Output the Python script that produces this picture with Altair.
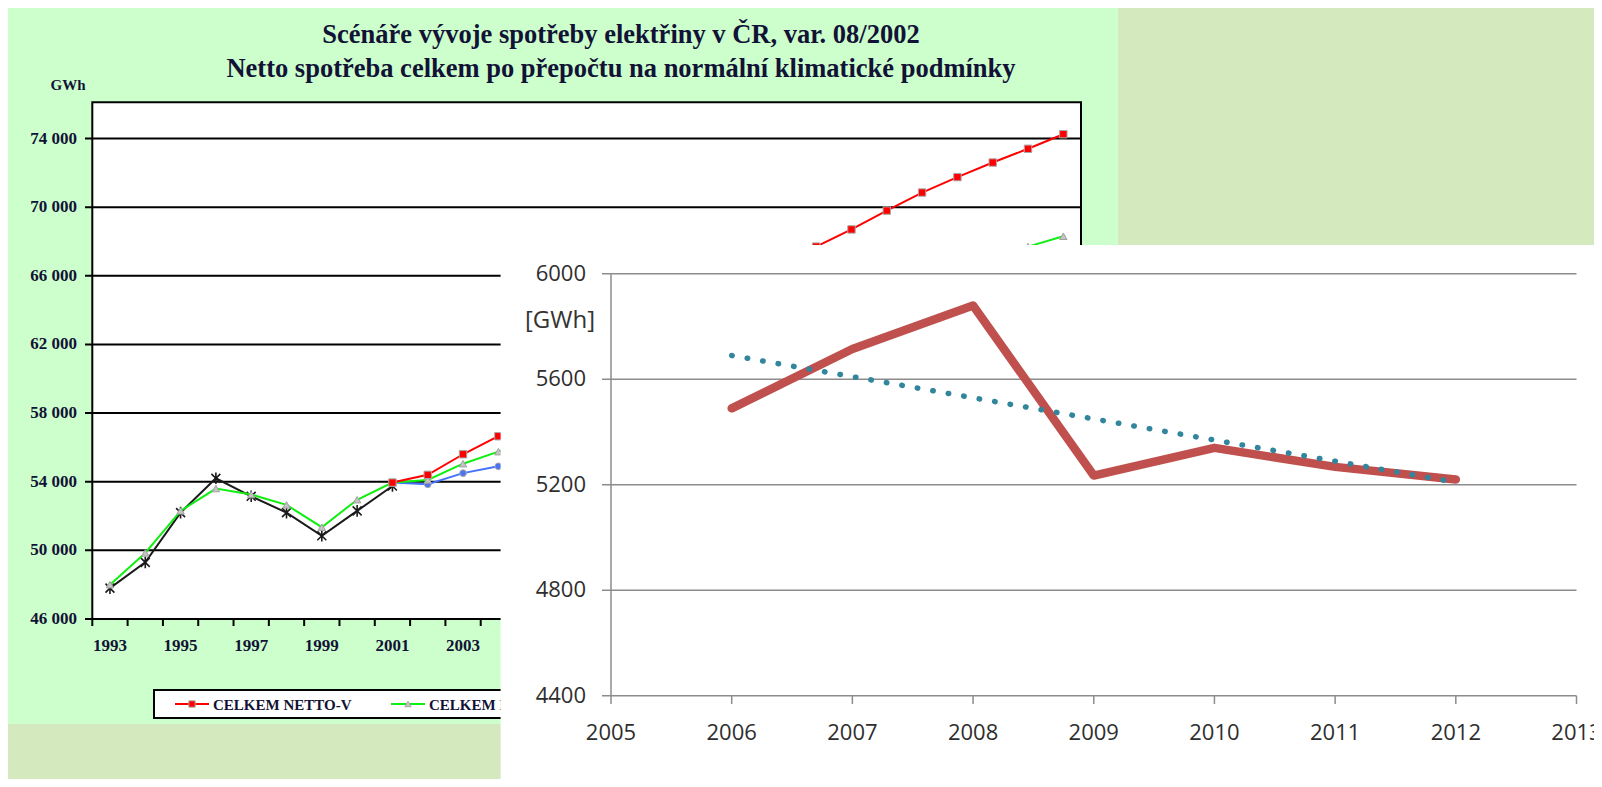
import altair as alt
import pandas as pd

# ---------------- data: background chart (1993-2020) ----------------
back_title_1 = "Scénáře vývoje spotřeby elektřiny v ČR, var. 08/2002"
back_title_2 = "Netto spotřeba celkem po přepočtu na normální klimatické podmínky"
back_unit = "GWh"

black_years = [1993, 1994, 1995, 1996, 1997, 1998, 1999, 2000, 2001]
black_vals = [47800, 49300, 52200, 54200, 53150, 52200, 50850, 52300, 53750]

green_years = [1993, 1994, 1995, 1996, 1997, 1998, 1999, 2000, 2001, 2002, 2003, 2004, 2019, 2020]
green_vals = [48000, 49850, 52300, 53600, 53250, 52650, 51350, 52950, 53950, 54100, 55050, 55750, 67700, 68300]

red_years = [2001, 2002, 2003, 2004, 2013, 2014, 2015, 2016, 2017, 2018, 2019, 2020]
red_vals = [53950, 54400, 55600, 56650, 67700, 68700, 69800, 70850, 71750, 72600, 73400, 74250]

blue_years = [2001, 2002, 2003, 2004]
blue_vals = [53950, 53850, 54500, 54900]

back_yticks = [46000, 50000, 54000, 58000, 62000, 66000, 70000, 74000]
back_ytick_labels = ["46 000", "50 000", "54 000", "58 000", "62 000", "66 000", "70 000", "74 000"]
back_years_all = list(range(1993, 2021))
back_xlabel_years = list(range(1993, 2021, 2))

legend_labels = ["CELKEM NETTO-V", "CELKEM NETTO-S"]

# ---------------- data: front chart (2006-2012) ----------------
front_years = [2006, 2007, 2008, 2009, 2010, 2011, 2012]
front_vals = [5490, 5715, 5880, 5235, 5340, 5268, 5220]
front_yticks = [4400, 4800, 5200, 5600, 6000]
front_xticks = [2005, 2006, 2007, 2008, 2009, 2010, 2011, 2012, 2013]
front_unit = "[GWh]"

# ---------------- layout ----------------
W, H = 1586, 771
OFF = 8


def px(v):
    return v - OFF


BX = alt.Scale(domain=[1992.5, 2020.5], range=[px(92.3), px(1081)], zero=False, nice=False)
BY = alt.Scale(domain=[46000, 74000], range=[px(619), px(138.5)], zero=False, nice=False)
FX = alt.Scale(domain=[2005, 2013], range=[px(611), px(1576.5)], zero=False, nice=False)
FY = alt.Scale(domain=[4400, 6000], range=[px(695.8), px(273.8)], zero=False, nice=False)


def bx(f):
    return alt.X(f, type="quantitative", scale=BX, axis=None)


def by(f):
    return alt.Y(f, type="quantitative", scale=BY, axis=None)


def fx(f):
    return alt.X(f, type="quantitative", scale=FX, axis=None)


def fy(f):
    return alt.Y(f, type="quantitative", scale=FY, axis=None)


one = pd.DataFrame({"k": [0]})
SERIF = "Liberation Serif"
SANS = "Open Sans"
BTXT = "#121236"
FTXT = "#2e2e2e"

layers = []

# back panel and plot area
layers.append(alt.Chart(one).mark_rect(color="#ccffcc").encode(
    x=alt.value(0), x2=alt.value(px(1118)), y=alt.value(0), y2=alt.value(px(724))))
layers.append(alt.Chart(one).mark_rect(fill="white", stroke="black", strokeWidth=2).encode(
    x=alt.value(px(92.3)), x2=alt.value(px(1081)), y=alt.value(px(102.3)), y2=alt.value(px(619))))

# back gridlines + ticks
bgrid = pd.DataFrame({"v": back_yticks, "lab": back_ytick_labels})
layers.append(alt.Chart(bgrid).mark_rule(color="black", strokeWidth=2).encode(
    y=by("v"), x=alt.value(px(85)), x2=alt.value(px(1081))))
bticks = pd.DataFrame({"b": [y - 0.5 for y in back_years_all] + [back_years_all[-1] + 0.5]})
layers.append(alt.Chart(bticks).mark_rule(color="black", strokeWidth=2).encode(
    x=bx("b"), y=alt.value(px(619)), y2=alt.value(px(626))))
layers.append(alt.Chart(bgrid).mark_text(align="right", baseline="middle", font=SERIF, fontWeight="bold",
                                         fontSize=17, color=BTXT).encode(
    y=by("v"), x=alt.value(px(77)), text="lab:N"))
bxl = pd.DataFrame({"yr": back_xlabel_years, "lab": [str(y) for y in back_xlabel_years]})
layers.append(alt.Chart(bxl).mark_text(align="center", baseline="middle", font=SERIF, fontWeight="bold",
                                       fontSize=17, color=BTXT).encode(
    x=bx("yr"), y=alt.value(px(646)), text="lab:N"))
layers.append(alt.Chart(pd.DataFrame({"t": [back_unit]})).mark_text(
    align="center", baseline="alphabetic", font=SERIF, fontWeight="bold", fontSize=15, color=BTXT).encode(
    x=alt.value(px(68)), y=alt.value(px(90)), text="t:N"))
layers.append(alt.Chart(pd.DataFrame({"t": [back_title_1]})).mark_text(
    align="center", baseline="alphabetic", font=SERIF, fontWeight="bold", fontSize=26.5, color=BTXT).encode(
    x=alt.value(px(621)), y=alt.value(px(43)), text="t:N"))
layers.append(alt.Chart(pd.DataFrame({"t": [back_title_2]})).mark_text(
    align="center", baseline="alphabetic", font=SERIF, fontWeight="bold", fontSize=26.5, color=BTXT).encode(
    x=alt.value(px(621)), y=alt.value(px(77)), text="t:N"))

# back series
ASTER = "M-1,-1L1,1M1,-1L-1,1M0,-1.3L0,1.3"
series = [
    (black_years, black_vals, "#1a1a1a", ASTER, "#1a1a1a", "#1a1a1a", False, 80),
    (blue_years, blue_vals, "#4472ff", "circle", "#4a74f0", "#a8a8a8", True, 45),
    (green_years, green_vals, "#11ee11", "triangle-up", "#c4c4c4", "#a0a0a0", True, 55),
    (red_years, red_vals, "#ff0000", "square", "#ff0000", "#a8a8a8", True, 55),
]
for yrs, vals, col, shape, fill, stroke, filled, size in series:
    df = pd.DataFrame({"yr": yrs, "v": vals})
    layers.append(alt.Chart(df).mark_line(color=col, strokeWidth=2).encode(x=bx("yr"), y=by("v")))
    if filled:
        pt = alt.Chart(df).mark_point(shape=shape, filled=True, fill=fill, stroke=stroke, strokeWidth=1,
                                      opacity=1, size=size)
    else:
        pt = alt.Chart(df).mark_point(shape=shape, filled=False, stroke=stroke, strokeWidth=1.6,
                                      opacity=1, size=size)
    layers.append(pt.encode(x=bx("yr"), y=by("v")))

# back legend (partly hidden by the front chart)
layers.append(alt.Chart(one).mark_rect(fill="white", stroke="black", strokeWidth=2).encode(
    x=alt.value(px(154)), x2=alt.value(px(760)), y=alt.value(px(690)), y2=alt.value(px(718))))
leg_items = [(legend_labels[0], "#ff0000", "square", "#ff0000", 175, 200),
             (legend_labels[1], "#11ee11", "triangle-up", "#c4c4c4", 391, 92)]
for lab, col, shape, fill, x0, lim in leg_items:
    layers.append(alt.Chart(one).mark_rule(color=col, strokeWidth=2).encode(
        x=alt.value(px(x0)), x2=alt.value(px(x0 + 34)), y=alt.value(px(704))))
    layers.append(alt.Chart(one).mark_point(shape=shape, filled=True, fill=fill, stroke="#a8a8a8",
                                            strokeWidth=1, opacity=1, size=40).encode(
        x=alt.value(px(x0 + 17)), y=alt.value(px(704))))
    layers.append(alt.Chart(pd.DataFrame({"t": [lab]})).mark_text(
        align="left", baseline="middle", font=SERIF, fontWeight="bold", fontSize=15, color=BTXT,
        limit=lim, ellipsis=" ").encode(
        x=alt.value(px(x0 + 38)), y=alt.value(px(705)), text="t:N"))

# ---------------- front chart ----------------
layers.append(alt.Chart(one).mark_rect(color="white").encode(
    x=alt.value(px(500.6)), x2=alt.value(W), y=alt.value(px(245)), y2=alt.value(H)))
fgrid = pd.DataFrame({"v": front_yticks, "lab": [str(v) for v in front_yticks]})
layers.append(alt.Chart(fgrid).mark_rule(color="#8c8c8c", strokeWidth=1.5).encode(
    y=fy("v"), x=alt.value(px(602)), x2=alt.value(px(1576.5))))
layers.append(alt.Chart(one).mark_rule(color="#8c8c8c", strokeWidth=1.5).encode(
    x=alt.value(px(611)), y=alt.value(px(273.8)), y2=alt.value(px(695.8))))
fxt = pd.DataFrame({"yr": front_xticks, "lab": [str(y) for y in front_xticks]})
layers.append(alt.Chart(fxt).mark_rule(color="#8c8c8c", strokeWidth=1.5).encode(
    x=fx("yr"), y=alt.value(px(695.8)), y2=alt.value(px(704))))
layers.append(alt.Chart(fgrid).mark_text(align="right", baseline="middle", font=SANS, fontSize=22,
                                         color=FTXT).encode(
    y=fy("v"), x=alt.value(px(586)), text="lab:N"))
layers.append(alt.Chart(fxt).mark_text(align="center", baseline="middle", font=SANS, fontSize=22,
                                       color=FTXT).encode(
    x=fx("yr"), y=alt.value(px(733)), text="lab:N"))
layers.append(alt.Chart(pd.DataFrame({"t": [front_unit]})).mark_text(
    align="center", baseline="middle", font=SANS, fontSize=24, color="#333333").encode(
    x=alt.value(px(560)), y=alt.value(px(321)), text="t:N"))

fdf = pd.DataFrame({"rok": front_years, "val": front_vals})
layers.append(alt.Chart(fdf).mark_line(color="#c0504d", strokeWidth=8.5, strokeCap="round",
                                       strokeJoin="round").encode(x=fx("rok"), y=fy("val")))
layers.append(alt.Chart(fdf).transform_regression("rok", "val").mark_line(
    color="#31859c", strokeWidth=5.5, strokeCap="round", strokeDash=[0.5, 15.2]).encode(
    x=fx("rok"), y=fy("val")))

chart = alt.layer(*layers).resolve_scale(x="independent", y="independent").properties(
    width=W, height=H, autosize=alt.AutoSizeParams(type="none"), padding=0,
    background="#d4e9bd"
).configure_view(strokeWidth=0)

chart.save("out.html", embed_options={"renderer": "svg", "actions": False})
